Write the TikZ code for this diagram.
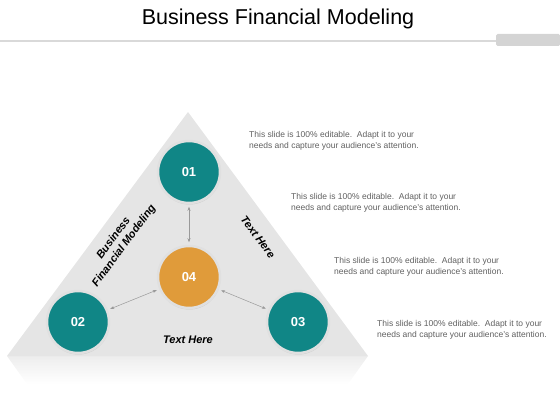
\documentclass[tikz,border=0pt]{standalone}
\usepackage{fontspec}
\setmainfont{Liberation Sans}
\usetikzlibrary{positioning,arrows.meta,shadows}
\definecolor{tealc}{HTML}{108686}
\definecolor{orangec}{HTML}{E09B3A}
\definecolor{bodygray}{HTML}{606060}

\begin{document}
\begin{tikzpicture}[
  x=1pt, y=-1pt,
  num/.style={circle, draw=black!12, line width=2.5pt, minimum size=62pt, inner sep=0pt, text=white,
    font=\bfseries\fontsize{13}{13}\selectfont,
    drop shadow={opacity=0.25, shadow xshift=0.4pt, shadow yshift=-1.5pt}},
  link/.style={<->, >={Stealth[length=4pt,width=3pt]}, draw=black!40, line width=0.5pt, shorten <=2.5pt, shorten >=2.5pt},
  side/.style={font=\bfseries\itshape\fontsize{11}{13}\selectfont, inner sep=0pt},
  blurb/.style={anchor=north west, align=left, text=bodygray, font=\fontsize{8.5}{11}\selectfont, inner sep=0pt}
]
\useasboundingbox (0,0) rectangle (560,420);

% heading
\node (title) at (278,19) {\fontsize{21.5}{24}\selectfont Business Financial Modeling};
\draw[black!15, line width=1.2pt] (0,41) -- (496,41);
\fill[black!17, rounded corners=1.5pt] (496,34) rectangle (560,46);

% triangle and its reflection
\shade[top color=black!7, bottom color=white] (7,356) -- (368,356) -- (348,384) -- (27,384) -- cycle;
\fill[black!10] (188,112) -- (368,356) -- (7,356) -- cycle;

% circles
\node[num, fill=tealc]   (c01) at (189,172) {01};
\node[num, fill=tealc]   (c02) at (78,322)  {02};
\node[num, fill=tealc]   (c03) at (298,322) {03};
\node[num, fill=orangec] (c04) at (189,277) {04};

\draw[link] (c01) -- (c04);
\draw[link] (c04) -- (c02);
\draw[link] (c04) -- (c03);

% side labels
\node[side, rotate=53.5, align=center] (lbl-left) at (119,242) {Business\\Financial Modeling};
\node[side, rotate=-53.5] (lbl-right) at (258,237) {Text Here};
\node[side] (lbl-bottom) at (188,340) {Text Here};

% notes
\node[blurb] (note1) at (249,131) {This slide is 100\% editable.\ \ Adapt it to your\\needs and capture your audience's attention.};
\node[blurb] (note2) at (291,193) {This slide is 100\% editable.\ \ Adapt it to your\\needs and capture your audience's attention.};
\node[blurb] (note3) at (334,257) {This slide is 100\% editable.\ \ Adapt it to your\\needs and capture your audience's attention.};
\node[blurb] (note4) at (377,320) {This slide is 100\% editable.\ \ Adapt it to your\\needs and capture your audience's attention.};
\end{tikzpicture}
\end{document}
